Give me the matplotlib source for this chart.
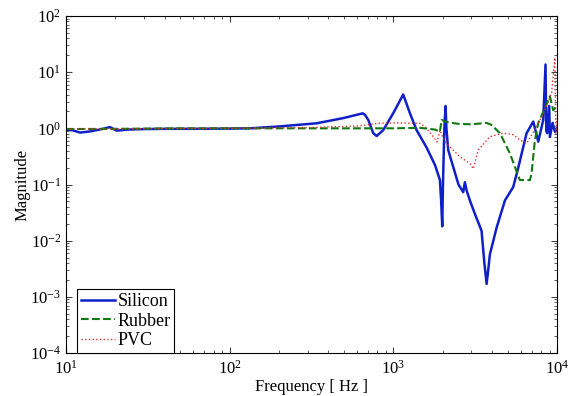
import matplotlib
matplotlib.use("Agg")
import matplotlib.pyplot as plt
from matplotlib.ticker import LogLocator, NullFormatter

plt.rcParams['font.family'] = ['Liberation Serif', 'DejaVu Serif']
plt.rcParams['mathtext.fontset'] = 'custom'
plt.rcParams['mathtext.rm'] = 'Liberation Serif'

silicon_f = [10, 11, 12.2, 14, 16, 18.6, 20.4, 24, 30, 40, 60, 100, 133, 200, 340, 494,
             597, 650, 671, 703, 754, 791, 868, 1000, 1149, 1262, 1387, 1600, 1800, 1926,
             1960, 1990, 2010, 2050, 2085, 2110, 2165, 2323, 2500, 2673, 2737, 2805, 2950,
             3150, 3460, 3600, 3715, 3800, 3890, 4275, 4806, 5400, 5800, 6520, 7160, 7680,
             8240, 8510, 8600, 8710, 8960, 9050, 9400, 9710, 10000]
silicon_m = [0.95, 0.92, 0.84, 0.88, 0.95, 1.05, 0.91, 0.95, 0.97, 0.98, 0.98, 0.99, 1.0,
             1.08, 1.23, 1.52, 1.74, 1.85, 1.74, 1.41, 0.82, 0.73, 0.93, 1.87, 4.0, 1.87,
             0.93, 0.45, 0.22, 0.12, 0.05, 0.018, 0.1, 1.0, 2.5, 1.0, 0.41, 0.205, 0.1, 0.073,
             0.11, 0.078, 0.05, 0.03, 0.015, 0.004, 0.0017, 0.003, 0.0057, 0.017, 0.052, 0.09,
             0.2, 0.82, 1.32, 0.58, 1.41, 13.7, 0.9, 0.82, 2.5, 0.7, 1.25, 0.87, 1.0]

rubber_f = [10, 20, 50, 100, 300, 1000, 1455, 1800, 1926, 1972, 2100, 2500, 3000, 3715,
            3980, 4480, 5150, 5930, 6830, 6990, 7330, 7680, 8430, 9050, 9480, 10000]
rubber_m = [0.97, 0.98, 1.0, 1.0, 1.0, 1.0, 1.02, 0.95, 0.87, 1.42, 1.3, 1.2, 1.18, 1.25,
            1.15, 0.82, 0.36, 0.12, 0.12, 0.156, 0.62, 1.24, 2.3, 3.7, 2.1, 2.5]

pvc_f = [10, 100, 300, 600, 828, 1000, 1455, 1600, 1754, 1850, 1926, 2000, 2115, 2553,
         2938, 3080, 3300, 3890, 4700, 5400, 5930, 6520, 7500, 8430, 9270, 9710, 9850, 10000]
pvc_m = [0.97, 1.0, 1.03, 1.1, 1.23, 1.25, 1.23, 1.0, 0.71, 0.57, 0.93, 0.7, 0.54, 0.31,
         0.236, 0.19, 0.41, 0.71, 0.82, 0.77, 0.62, 0.54, 1.07, 2.1, 4.3, 18, 0.82, 1.5]

fig = plt.figure(figsize=(5.74, 3.96), dpi=100)
ax = fig.add_axes([66/574, 1 - 353/396, (557-66)/574, (353-16)/396])

ax.loglog(silicon_f, silicon_m, '-', color='#1020c8', lw=1.8, label='Silicon')
ax.loglog(rubber_f, rubber_m, '--', color='#107810', lw=1.5, label='Rubber')
ax.loglog(pvc_f, pvc_m, ':', color='#e03030', lw=1.0, label='PVC')

ax.set_xlim(10, 1e4)
ax.set_ylim(1e-4, 1e2)
ax.xaxis.set_major_locator(LogLocator(base=10, numticks=10))
ax.yaxis.set_major_locator(LogLocator(base=10, numticks=10))
ax.xaxis.set_minor_locator(LogLocator(base=10, subs=range(2, 10), numticks=100))
ax.yaxis.set_minor_locator(LogLocator(base=10, subs=range(2, 10), numticks=100))
ax.xaxis.set_minor_formatter(NullFormatter())
ax.yaxis.set_minor_formatter(NullFormatter())
ax.tick_params(which='both', direction='in', top=True, right=True, labelsize=12, color='#444444')
ax.tick_params(which='major', length=4)
ax.tick_params(which='minor', length=2)
ax.tick_params(axis='x', pad=5)
for s in ax.spines.values():
    s.set_linewidth(0.8)

ax.set_xlabel('Frequency [ Hz ]', fontsize=12, labelpad=1)
ax.set_ylabel('Magnitude', fontsize=12, labelpad=0)

leg = ax.legend(loc='lower left', bbox_to_anchor=(11/491, 0), borderaxespad=0,
                fontsize=13, fancybox=False, framealpha=1, edgecolor='black',
                handlelength=1.9, handletextpad=0.15, labelspacing=0.15, borderpad=0.2)
leg.get_frame().set_linewidth(0.8)

fig.savefig('out.png', dpi=100)
